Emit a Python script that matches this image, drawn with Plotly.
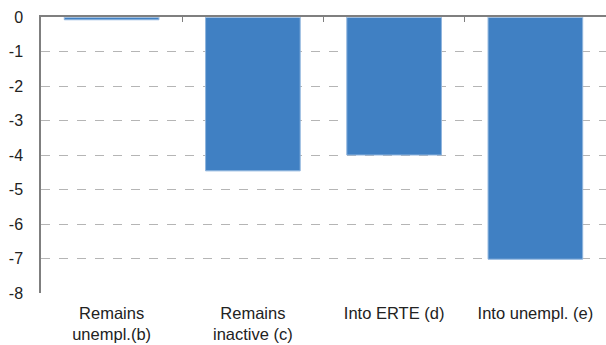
import plotly.graph_objects as go

categories = ["Remains<br>unempl.(b)", "Remains<br>inactive (c)", "Into ERTE (d)", "Into unempl. (e)"]
values = [-0.08, -4.46, -4.0, -7.02]
y_ticks = [0, -1, -2, -3, -4, -5, -6, -7, -8]

BAR = "#4080c3"
AXIS = "#7f7f7f"
GRID = "#b5b5b5"
FAMILY = "Liberation Sans, Arial, sans-serif"
XFONT = dict(family=FAMILY, size=16.5, color="#222222")
YFONT = dict(family=FAMILY, size=16, color="#222222")

fig = go.Figure()
fig.add_trace(go.Bar(
    x=categories, y=values, width=0.67,
    marker=dict(color=BAR, line=dict(color="#8fb4dd", width=1)),
    showlegend=False,
))
# invisible trace carrying the top (zero-line) category axis with boundary ticks
fig.add_trace(go.Bar(x=categories, y=[0] * len(categories), xaxis="x2",
                     showlegend=False, hoverinfo="skip", marker=dict(color="rgba(0,0,0,0)")))

fig.update_layout(
    width=606, height=345,
    margin=dict(l=41, r=0, t=17, b=52),
    plot_bgcolor="white", paper_bgcolor="white",
    font=YFONT,
    bargap=0.33,
    xaxis=dict(
        showline=False, showgrid=False, zeroline=False, ticks="",
        tickfont=XFONT, ticklabelstandoff=8, automargin=False,
    ),
    xaxis2=dict(
        overlaying="x", side="top", anchor="y", matches="x",
        showline=True, linecolor=AXIS, linewidth=1.5,
        ticks="inside", tickson="boundaries", ticklen=5, tickcolor=AXIS, tickwidth=1,
        showticklabels=False, showgrid=False, zeroline=False,
    ),
    yaxis=dict(
        range=[-8, 0], tickvals=y_ticks, ticktext=[str(v) for v in y_ticks],
        showline=True, linecolor=AXIS, linewidth=1.5,
        showgrid=True, gridcolor=GRID, griddash="dash", gridwidth=1,
        zeroline=False, ticks="",
        ticklabelstandoff=13, tickfont=YFONT, automargin=False,
    ),
)

fig.write_html("out.html")
